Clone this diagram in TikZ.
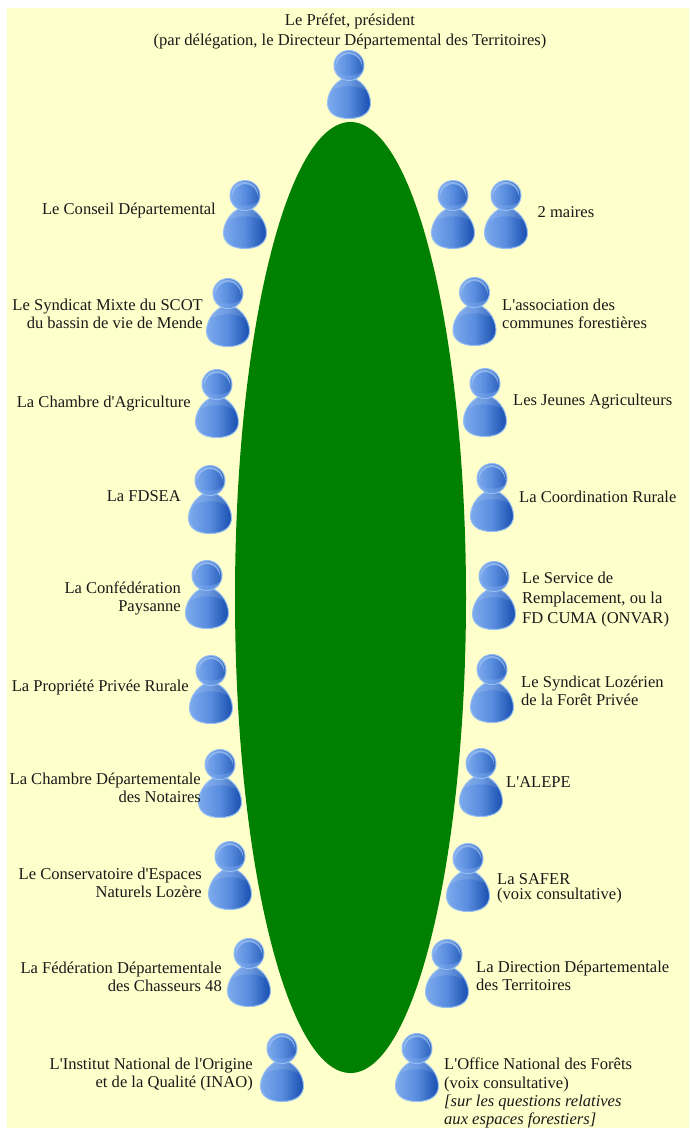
\documentclass[tikz,border=0pt]{standalone}
\usepackage{fontspec}
\setmainfont{Liberation Serif}[Ligatures=TeXOff]
\usetikzlibrary{shapes.geometric}
\definecolor{paper}{RGB}{255,255,204}
\definecolor{tablegreen}{RGB}{0,128,0}
\definecolor{pLight}{RGB}{125,170,238}
\definecolor{pMid}{RGB}{88,140,222}
\definecolor{pDark}{RGB}{24,78,175}
\definecolor{pEdge}{RGB}{150,190,240}
\tikzset{
  x=1pt,y=-1pt,
  lbl/.style={font=\fontsize{16.55}{18}\selectfont,inner sep=0pt,text=black!90},
  lblL/.style={lbl,align=right,anchor=east},
  lblR/.style={lbl,align=left,anchor=west},
  tablebox/.style={ellipse,fill=tablegreen,inner sep=0pt,minimum width=231pt,minimum height=951pt},
  person/.pic={
    % body
    \path[left color=pLight,right color=pDark,middle color=pMid,draw=pEdge,line width=1pt]
      (0,27.5) .. controls (-11,27.5) and (-21.5,41) .. (-21.5,53)
      .. controls (-21.5,63) and (-13,68.5) .. (0,68.5)
      .. controls (13,68.5) and (21.5,63) .. (21.5,53)
      .. controls (21.5,41) and (11,27.5) .. (0,27.5) -- cycle;
    \fill[white,opacity=.12] (0,28) .. controls (-7,28) and (-13,33) .. (-16,40)
      .. controls (-8,35) and (8,35) .. (16,40)
      .. controls (13,33) and (7,28) .. (0,28) -- cycle;
    % head
    \path[left color=pLight,right color=pDark!70!pMid,middle color=pMid,draw=pEdge,line width=1pt]
      (0,15.5) circle[radius=15];
    \fill[pLight!70!white,opacity=.7]
      (-13.3,17) .. controls (-14,7) and (-6,1.8) .. (0,1.8)
      .. controls (6,1.8) and (14,7) .. (13.3,17)
      .. controls (11.5,8) and (6,4) .. (0,4)
      .. controls (-6,4) and (-11.5,8) .. (-13.3,17) -- cycle;
    \fill[pLight,opacity=.45] (0,30) .. controls (-6,30) and (-10,27) .. (-12.5,22)
      .. controls (-6,27) and (6,27) .. (12.5,22)
      .. controls (10,27) and (6,30) .. (0,30) -- cycle;
  }
}
\begin{document}
\begin{tikzpicture}
\useasboundingbox (0,0) rectangle (689,1128);
\fill[white] (0,0) rectangle (689,1128);
\fill[paper] (7,8) rectangle (689,1128);
\node[tablebox] (table) at (350.5,597.5) {};

\pic at (349,50) {person};
\pic at (245,180) {person};
\pic at (453,180) {person};
\pic at (506,180) {person};
\pic at (228,278) {person};
\pic at (474.5,277) {person};
\pic at (217,369) {person};
\pic at (485,368) {person};
\pic at (210,465) {person};
\pic at (492,463) {person};
\pic at (207,560) {person};
\pic at (494,561) {person};
\pic at (211,655) {person};
\pic at (492,654) {person};
\pic at (220,749) {person};
\pic at (481,748) {person};
\pic at (230,841) {person};
\pic at (468,843) {person};
\pic at (249,938) {person};
\pic at (447,939) {person};
\pic at (282,1033) {person};
\pic at (417,1033) {person};

\node[lbl,align=center,font=\fontsize{16.55}{20}\selectfont] (prefet) at (350,31.2) {Le Préfet, président\\(par délégation, le Directeur Départemental des Territoires)};

\node[lblL] (l1) at (216,210.5) {Le Conseil Départemental};
\node[lblL] (l2) at (203,313.5) {Le Syndicat Mixte du SCOT\\du bassin de vie de Mende};
\node[lblL] (l3) at (191,403.5) {La Chambre d'Agriculture};
\node[lblL] (l4) at (181,496.5) {La FDSEA};
\node[lblL] (l5) at (181,598.5) {La Confédération\\Paysanne};
\node[lblL] (l6) at (189,687.5) {La Propriété Privée Rurale};
\node[lblL] (l7) at (201,787.5) {La Chambre Départementale\\des Notaires};
\node[lblL] (l8) at (202,882.5) {Le Conservatoire d'Espaces\\Naturels Lozère};
\node[lblL] (l9) at (222,976.5) {La Fédération Départementale\\des Chasseurs 48};
\node[lblL] (l10) at (253,1074.5) {L'Institut National de l'Origine\\et de la Qualité (INAO)};

\node[lblR] (r1) at (537.5,212.5) {2 maires};
\node[lblR] (r2) at (502,314) {L'association des\\communes forestières};
\node[lblR] (r3) at (513,401.5) {Les Jeunes Agriculteurs};
\node[lblR] (r4) at (519,497) {La Coordination Rurale};
\node[lblR,font=\fontsize{16.55}{20}\selectfont] (r5) at (522,599.5) {Le Service de\\Remplacement, ou la\\FD CUMA (ONVAR)};
\node[lblR] (r6) at (521,691) {Le Syndicat Lozérien\\de la Forêt Privée};
\node[lblR] (r7) at (506,782) {L'ALEPE};
\node[lblR,font=\fontsize{16.55}{15.5}\selectfont] (r8) at (497,888.5) {La SAFER\\(voix consultative)};
\node[lblR] (r9) at (476,975.5) {La Direction Départementale\\des Territoires};
\node[lblR,font=\fontsize{16.55}{18.3}\selectfont] (r10) at (444,1093.25) {L'Office National des Forêts\\(voix consultative)\\\textit{[sur les questions relatives}\\\textit{aux espaces forestiers]}};
\end{tikzpicture}
\end{document}
